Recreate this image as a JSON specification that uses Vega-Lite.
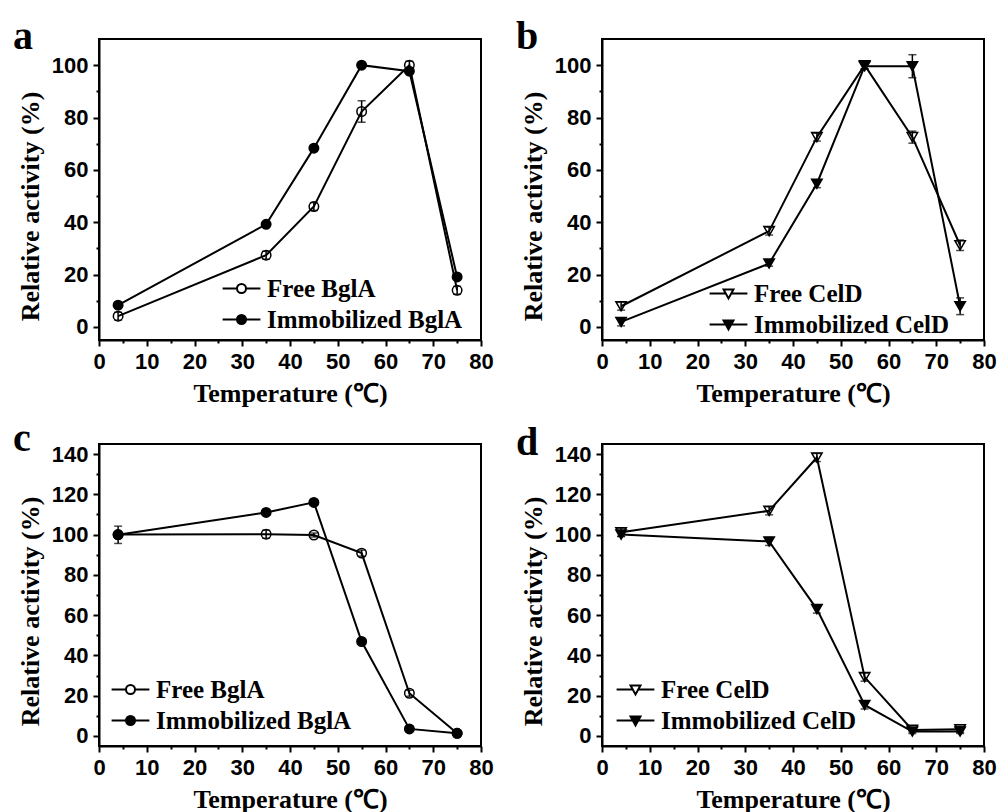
{
  "$schema": "https://vega.github.io/schema/vega-lite/v6.json",
  "background": "white",
  "padding": {"left": 12, "top": 16, "right": 0, "bottom": 0},
  "config": {
    "view": {"stroke": "black", "strokeWidth": 2},
    "axis": {"domainColor": "black", "domainWidth": 2, "tickColor": "black", "tickWidth": 2, "labelFont": "Liberation Sans", "labelFontWeight": "bold", "labelFontSize": 22, "labelColor": "black", "titleFont": "Liberation Serif", "titleFontWeight": "bold", "titleFontSize": 26, "titleColor": "black", "grid": false, "labelOverlap": false, "labelFlush": false, "labelBound": false},
    "legend": {"labelFont": "Liberation Serif", "labelFontWeight": "bold", "labelFontSize": 25, "labelColor": "black", "labelOffset": 13, "symbolSize": 81, "symbolStrokeWidth": 2, "rowPadding": 5, "padding": 0, "labelLimit": 400, "title": null, "symbolOpacity": 1},
    "title": {"font": "Liberation Serif", "fontSize": 40, "fontWeight": "bold", "color": "black", "anchor": "start", "frame": "group", "offset": -18, "baseline": "alphabetic", "dx": -86}
  },
  "datasets": {
    "a": [
      {"T": 4, "series": "Free BglA", "v": 4.1, "err": 1.5},
      {"T": 35, "series": "Free BglA", "v": 27.4, "err": 1.5},
      {"T": 45, "series": "Free BglA", "v": 46, "err": 1.5},
      {"T": 55, "series": "Free BglA", "v": 82.3, "err": 4.1},
      {"T": 65, "series": "Free BglA", "v": 100, "err": 1.5},
      {"T": 75, "series": "Free BglA", "v": 14, "err": 1.5},
      {"T": 4, "series": "Immobilized BglA", "v": 8.3, "err": 0},
      {"T": 35, "series": "Immobilized BglA", "v": 39.2, "err": 0},
      {"T": 45, "series": "Immobilized BglA", "v": 68.3, "err": 0},
      {"T": 55, "series": "Immobilized BglA", "v": 100, "err": 0},
      {"T": 65, "series": "Immobilized BglA", "v": 97.7, "err": 0},
      {"T": 75, "series": "Immobilized BglA", "v": 19.1, "err": 0}
    ],
    "b": [
      {"T": 4, "series": "Free CelD", "v": 7.9, "err": 1.5},
      {"T": 35, "series": "Free CelD", "v": 36.6, "err": 1.5},
      {"T": 45, "series": "Free CelD", "v": 72.5, "err": 1.5},
      {"T": 55, "series": "Free CelD", "v": 100, "err": 1.5},
      {"T": 65, "series": "Free CelD", "v": 72.5, "err": 2.3},
      {"T": 75, "series": "Free CelD", "v": 31.2, "err": 2},
      {"T": 4, "series": "Immobilized CelD", "v": 1.9, "err": 1.5},
      {"T": 35, "series": "Immobilized CelD", "v": 24.2, "err": 1},
      {"T": 45, "series": "Immobilized CelD", "v": 54.7, "err": 1.5},
      {"T": 55, "series": "Immobilized CelD", "v": 99.6, "err": 1},
      {"T": 65, "series": "Immobilized CelD", "v": 99.6, "err": 4.4},
      {"T": 75, "series": "Immobilized CelD", "v": 7.9, "err": 3.2}
    ],
    "c": [
      {"T": 4, "series": "Free BglA", "v": 100, "err": 1},
      {"T": 35, "series": "Free BglA", "v": 100.2, "err": 2},
      {"T": 45, "series": "Free BglA", "v": 99.8, "err": 1},
      {"T": 55, "series": "Free BglA", "v": 90.8, "err": 1.5},
      {"T": 65, "series": "Free BglA", "v": 21.2, "err": 1.5},
      {"T": 75, "series": "Free BglA", "v": 1.3, "err": 0},
      {"T": 4, "series": "Immobilized BglA", "v": 99.9, "err": 4.3},
      {"T": 35, "series": "Immobilized BglA", "v": 111, "err": 0},
      {"T": 45, "series": "Immobilized BglA", "v": 116, "err": 0},
      {"T": 55, "series": "Immobilized BglA", "v": 46.9, "err": 0},
      {"T": 65, "series": "Immobilized BglA", "v": 3.5, "err": 0},
      {"T": 75, "series": "Immobilized BglA", "v": 1.3, "err": 0}
    ],
    "d": [
      {"T": 4, "series": "Free CelD", "v": 101.2, "err": 2},
      {"T": 35, "series": "Free CelD", "v": 111.8, "err": 2},
      {"T": 45, "series": "Free CelD", "v": 138.3, "err": 2},
      {"T": 55, "series": "Free CelD", "v": 29.2, "err": 2},
      {"T": 65, "series": "Free CelD", "v": 3, "err": 1},
      {"T": 75, "series": "Free CelD", "v": 3.3, "err": 1.5},
      {"T": 4, "series": "Immobilized CelD", "v": 100, "err": 1},
      {"T": 35, "series": "Immobilized CelD", "v": 96.6, "err": 2},
      {"T": 45, "series": "Immobilized CelD", "v": 63, "err": 2},
      {"T": 55, "series": "Immobilized CelD", "v": 15.4, "err": 2},
      {"T": 65, "series": "Immobilized CelD", "v": 2.2, "err": 1},
      {"T": 75, "series": "Immobilized CelD", "v": 2.2, "err": 1}
    ]
  },
  "columns": 2,
  "bounds": "flush",
  "spacing": {"row": 104, "column": 121},
  "resolve": {"scale": {"shape": "independent", "fill": "independent", "stroke": "independent", "x": "independent", "y": "independent"}, "legend": {"shape": "independent", "fill": "independent", "stroke": "independent"}},
  "concat": [
    {
      "width": 382, "height": 301,
      "data": {"name": "a"},
      "title": {"text": "a"},
      "encoding": {
        "x": {"field": "T", "type": "quantitative", "scale": {"domain": [0, 80]}, "axis": {"title": "Temperature (℃)", "values": [0,5,10,15,20,25,30,35,40,45,50,55,60,65,70,75,80], "labelExpr": "datum.value % 10 === 0 ? datum.label : ''", "tickSize": {"condition": {"test": "datum.value % 10 === 0", "value": 6}, "value": 3}, "labelPadding": 5, "titlePadding": 8}},
        "y": {"field": "v", "type": "quantitative", "scale": {"domain": [-5, 110]}, "axis": {"title": "Relative activity (%)", "titleY": 167, "values": [0,10,20,30,40,50,60,70,80,90,100], "labelExpr": "datum.value % 20 === 0 ? datum.label : ''", "tickSize": {"condition": {"test": "datum.value % 20 === 0", "value": 6}, "value": 3}, "labelPadding": 5, "titlePadding": 8}}
      },
      "layer": [
        {"mark": {"type": "line", "color": "black", "strokeWidth": 2}, "encoding": {"detail": {"field": "series"}}},
        {"mark": {"type": "point", "filled": true, "stroke": "black", "strokeWidth": 1.5, "size": 90, "opacity": 1},
         "encoding": {"shape": {"field": "series", "type": "nominal", "scale": {"domain": ["Free BglA", "Immobilized BglA"], "range": ["circle", "circle"]}, "legend": null},
                      "fill": {"field": "series", "type": "nominal", "scale": {"domain": ["Free BglA", "Immobilized BglA"], "range": ["transparent", "black"]}, "legend": null}}},
        {"transform": [{"filter": "datum.err > 0"}], "mark": {"type": "errorbar", "color": "black", "thickness": 1.5, "ticks": {"size": 8}}, "encoding": {"yError": {"field": "err"}}},
        {"transform": [{"filter": "false"}], "mark": {"type": "point", "filled": true, "strokeWidth": 2, "opacity": 1},
         "encoding": {"shape": {"field": "series", "type": "nominal", "scale": {"domain": ["Free BglA", "Immobilized BglA"], "range": ["M-4.2,0H-1M1,0H4.2M-1,0A1,1 0 1,0 1,0A1,1 0 1,0 -1,0Z", "M-4.2,0H-1M1,0H4.2M-1,0A1,1 0 1,0 1,0A1,1 0 1,0 -1,0Z"]}, "legend": {"orient": "none", "legendX": 130, "legendY": 237}},
                      "fill": {"field": "series", "type": "nominal", "scale": {"domain": ["Free BglA", "Immobilized BglA"], "range": ["white", "black"]}, "legend": {"orient": "none", "legendX": 130, "legendY": 237}},
                      "stroke": {"field": "series", "type": "nominal", "scale": {"domain": ["Free BglA", "Immobilized BglA"], "range": ["black", "black"]}, "legend": {"orient": "none", "legendX": 130, "legendY": 237}}}}
      ],
      "resolve": {"scale": {"shape": "independent", "fill": "independent", "stroke": "independent"}}
    },
    {
      "width": 382, "height": 301,
      "data": {"name": "b"},
      "title": {"text": "b"},
      "encoding": {
        "x": {"field": "T", "type": "quantitative", "scale": {"domain": [0, 80]}, "axis": {"title": "Temperature (℃)", "values": [0,5,10,15,20,25,30,35,40,45,50,55,60,65,70,75,80], "labelExpr": "datum.value % 10 === 0 ? datum.label : ''", "tickSize": {"condition": {"test": "datum.value % 10 === 0", "value": 6}, "value": 3}, "labelPadding": 5, "titlePadding": 8}},
        "y": {"field": "v", "type": "quantitative", "scale": {"domain": [-5, 110]}, "axis": {"title": "Relative activity (%)", "titleY": 167, "values": [0,10,20,30,40,50,60,70,80,90,100], "labelExpr": "datum.value % 20 === 0 ? datum.label : ''", "tickSize": {"condition": {"test": "datum.value % 20 === 0", "value": 6}, "value": 3}, "labelPadding": 5, "titlePadding": 8}}
      },
      "layer": [
        {"mark": {"type": "line", "color": "black", "strokeWidth": 2}, "encoding": {"detail": {"field": "series"}}},
        {"mark": {"type": "point", "filled": true, "stroke": "black", "strokeWidth": 1.5, "size": 110, "opacity": 1},
         "encoding": {"shape": {"field": "series", "type": "nominal", "scale": {"domain": ["Free CelD", "Immobilized CelD"], "range": ["triangle-down", "triangle-down"]}, "legend": null},
                      "fill": {"field": "series", "type": "nominal", "scale": {"domain": ["Free CelD", "Immobilized CelD"], "range": ["transparent", "black"]}, "legend": null}}},
        {"transform": [{"filter": "datum.err > 0"}], "mark": {"type": "errorbar", "color": "black", "thickness": 1.5, "ticks": {"size": 8}}, "encoding": {"yError": {"field": "err"}}},
        {"transform": [{"filter": "false"}], "mark": {"type": "point", "filled": true, "strokeWidth": 2, "opacity": 1},
         "encoding": {"shape": {"field": "series", "type": "nominal", "scale": {"domain": ["Free CelD", "Immobilized CelD"], "range": ["M-4.2,0H-0.55M0.55,0H4.2M-1.1,-0.9H1.1L0,1.1Z", "M-4.2,0H-0.55M0.55,0H4.2M-1.1,-0.9H1.1L0,1.1Z"]}, "legend": {"orient": "none", "legendX": 114, "legendY": 242}},
                      "fill": {"field": "series", "type": "nominal", "scale": {"domain": ["Free CelD", "Immobilized CelD"], "range": ["white", "black"]}, "legend": {"orient": "none", "legendX": 114, "legendY": 242}},
                      "stroke": {"field": "series", "type": "nominal", "scale": {"domain": ["Free CelD", "Immobilized CelD"], "range": ["black", "black"]}, "legend": {"orient": "none", "legendX": 114, "legendY": 242}}}}
      ],
      "resolve": {"scale": {"shape": "independent", "fill": "independent", "stroke": "independent"}}
    },
    {
      "width": 382, "height": 302,
      "data": {"name": "c"},
      "title": {"text": "c", "offset": -16},
      "encoding": {
        "x": {"field": "T", "type": "quantitative", "scale": {"domain": [0, 80]}, "axis": {"title": "Temperature (℃)", "values": [0,5,10,15,20,25,30,35,40,45,50,55,60,65,70,75,80], "labelExpr": "datum.value % 10 === 0 ? datum.label : ''", "tickSize": {"condition": {"test": "datum.value % 10 === 0", "value": 6}, "value": 3}, "labelPadding": 5, "titlePadding": 8}},
        "y": {"field": "v", "type": "quantitative", "scale": {"domain": [-5, 145]}, "axis": {"title": "Relative activity (%)", "titleY": 167, "values": [0,10,20,30,40,50,60,70,80,90,100,110,120,130,140], "labelExpr": "datum.value % 20 === 0 ? datum.label : ''", "tickSize": {"condition": {"test": "datum.value % 20 === 0", "value": 6}, "value": 3}, "labelPadding": 5, "titlePadding": 8}}
      },
      "layer": [
        {"mark": {"type": "line", "color": "black", "strokeWidth": 2}, "encoding": {"detail": {"field": "series"}}},
        {"mark": {"type": "point", "filled": true, "stroke": "black", "strokeWidth": 1.5, "size": 90, "opacity": 1},
         "encoding": {"shape": {"field": "series", "type": "nominal", "scale": {"domain": ["Free BglA", "Immobilized BglA"], "range": ["circle", "circle"]}, "legend": null},
                      "fill": {"field": "series", "type": "nominal", "scale": {"domain": ["Free BglA", "Immobilized BglA"], "range": ["transparent", "black"]}, "legend": null}}},
        {"transform": [{"filter": "datum.err > 0"}], "mark": {"type": "errorbar", "color": "black", "thickness": 1.5, "ticks": {"size": 8}}, "encoding": {"yError": {"field": "err"}}},
        {"transform": [{"filter": "false"}], "mark": {"type": "point", "filled": true, "strokeWidth": 2, "opacity": 1},
         "encoding": {"shape": {"field": "series", "type": "nominal", "scale": {"domain": ["Free BglA", "Immobilized BglA"], "range": ["M-4.2,0H-1M1,0H4.2M-1,0A1,1 0 1,0 1,0A1,1 0 1,0 -1,0Z", "M-4.2,0H-1M1,0H4.2M-1,0A1,1 0 1,0 1,0A1,1 0 1,0 -1,0Z"]}, "legend": {"orient": "none", "legendX": 19, "legendY": 233}},
                      "fill": {"field": "series", "type": "nominal", "scale": {"domain": ["Free BglA", "Immobilized BglA"], "range": ["white", "black"]}, "legend": {"orient": "none", "legendX": 19, "legendY": 233}},
                      "stroke": {"field": "series", "type": "nominal", "scale": {"domain": ["Free BglA", "Immobilized BglA"], "range": ["black", "black"]}, "legend": {"orient": "none", "legendX": 19, "legendY": 233}}}}
      ],
      "resolve": {"scale": {"shape": "independent", "fill": "independent", "stroke": "independent"}}
    },
    {
      "width": 382, "height": 302,
      "data": {"name": "d"},
      "title": {"text": "d", "offset": -20},
      "encoding": {
        "x": {"field": "T", "type": "quantitative", "scale": {"domain": [0, 80]}, "axis": {"title": "Temperature (℃)", "values": [0,5,10,15,20,25,30,35,40,45,50,55,60,65,70,75,80], "labelExpr": "datum.value % 10 === 0 ? datum.label : ''", "tickSize": {"condition": {"test": "datum.value % 10 === 0", "value": 6}, "value": 3}, "labelPadding": 5, "titlePadding": 8}},
        "y": {"field": "v", "type": "quantitative", "scale": {"domain": [-5, 145]}, "axis": {"title": "Relative activity (%)", "titleY": 167, "values": [0,10,20,30,40,50,60,70,80,90,100,110,120,130,140], "labelExpr": "datum.value % 20 === 0 ? datum.label : ''", "tickSize": {"condition": {"test": "datum.value % 20 === 0", "value": 6}, "value": 3}, "labelPadding": 5, "titlePadding": 8}}
      },
      "layer": [
        {"mark": {"type": "line", "color": "black", "strokeWidth": 2}, "encoding": {"detail": {"field": "series"}}},
        {"mark": {"type": "point", "filled": true, "stroke": "black", "strokeWidth": 1.5, "size": 110, "opacity": 1},
         "encoding": {"shape": {"field": "series", "type": "nominal", "scale": {"domain": ["Free CelD", "Immobilized CelD"], "range": ["triangle-down", "triangle-down"]}, "legend": null},
                      "fill": {"field": "series", "type": "nominal", "scale": {"domain": ["Free CelD", "Immobilized CelD"], "range": ["transparent", "black"]}, "legend": null}}},
        {"transform": [{"filter": "datum.err > 0"}], "mark": {"type": "errorbar", "color": "black", "thickness": 1.5, "ticks": {"size": 8}}, "encoding": {"yError": {"field": "err"}}},
        {"transform": [{"filter": "false"}], "mark": {"type": "point", "filled": true, "strokeWidth": 2, "opacity": 1},
         "encoding": {"shape": {"field": "series", "type": "nominal", "scale": {"domain": ["Free CelD", "Immobilized CelD"], "range": ["M-4.2,0H-0.55M0.55,0H4.2M-1.1,-0.9H1.1L0,1.1Z", "M-4.2,0H-0.55M0.55,0H4.2M-1.1,-0.9H1.1L0,1.1Z"]}, "legend": {"orient": "none", "legendX": 21, "legendY": 233}},
                      "fill": {"field": "series", "type": "nominal", "scale": {"domain": ["Free CelD", "Immobilized CelD"], "range": ["white", "black"]}, "legend": {"orient": "none", "legendX": 21, "legendY": 233}},
                      "stroke": {"field": "series", "type": "nominal", "scale": {"domain": ["Free CelD", "Immobilized CelD"], "range": ["black", "black"]}, "legend": {"orient": "none", "legendX": 21, "legendY": 233}}}}
      ],
      "resolve": {"scale": {"shape": "independent", "fill": "independent", "stroke": "independent"}}
    }
  ]
}
